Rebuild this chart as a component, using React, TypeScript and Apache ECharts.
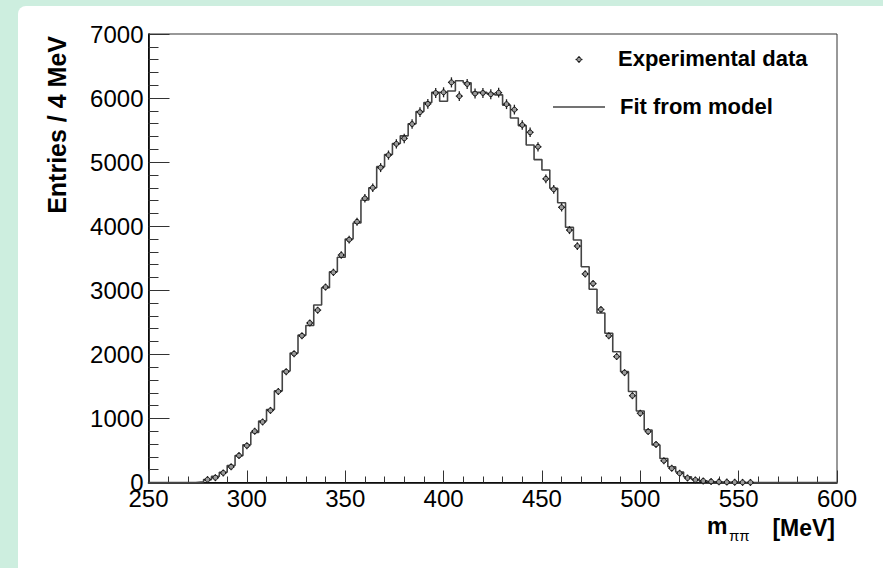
import React, { useEffect, useRef } from "react";
import * as echarts from "echarts";

// Histogram binning (MeV): first listed bin starts at 274, width 4
const BIN_LOW = 274;
const BIN_WIDTH = 4;

// Experimental data (entries per 4 MeV bin), bins centred at 276, 280, ..., 556
const dataCounts = [
  0, 45, 75, 150, 245, 420, 575, 800, 945, 1125,
  1420, 1730, 2010, 2290, 2490, 2690, 3050, 3280, 3550, 3790,
  4070, 4435, 4600, 4915, 5110, 5285, 5370, 5595, 5780, 5910,
  6080, 6090, 6245, 6030, 6220, 6070, 6080, 6060, 6085, 5905,
  5820, 5580, 5465, 5240, 4740, 4575, 4295, 3940, 3690, 3255,
  3105, 2700, 2290, 1965, 1715, 1355, 1080, 795, 595, 340,
  222, 144, 70, 40, 25, 15, 10, 6, 4, 2,
  1,
];

// Fit from model (entries per 4 MeV bin), same bins
const fitCounts = [
  10, 45, 95, 160, 265, 420, 590, 780, 960, 1140,
  1430, 1740, 2020, 2300, 2450, 2770, 3040, 3290, 3515, 3800,
  4050, 4410, 4600, 4930, 5120, 5290, 5410, 5600, 5790, 5930,
  6090, 5950, 6110, 6270, 6240, 6090, 6090, 6070, 6050, 5890,
  5690, 5570, 5268, 5040, 4877, 4592, 4367, 3983, 3785, 3368,
  3015, 2645, 2330, 2040, 1730, 1420, 1115, 820, 585, 375,
  245, 165, 90, 50, 25, 12, 6, 3, 2, 1,
  0,
];

const X_MIN = 250;
const X_MAX = 600;
const X_STEP = 50;
const Y_MIN = 0;
const Y_MAX = 7000;
const Y_STEP = 1000;

const yTitle = "Entries / 4 MeV";
const legendData = "Experimental data";
const legendFit = "Fit from model";

const FONT = "'Liberation Sans', Arial, Helvetica, sans-serif";

export default function App() {
  const ref = useRef<HTMLDivElement>(null);

  useEffect(() => {
    if (!ref.current) return;
    const chart = echarts.init(ref.current, undefined, { renderer: "svg" });

    const stepPts: number[][] = [[X_MIN, 0]];
    fitCounts.forEach((v, i) => stepPts.push([BIN_LOW + BIN_WIDTH * i, v]));
    stepPts.push([BIN_LOW + BIN_WIDTH * fitCounts.length, 0]);
    stepPts.push([X_MAX, 0]);

    const pts: number[][] = [];
    dataCounts.forEach((v, i) => {
      if (v > 0) pts.push([BIN_LOW + BIN_WIDTH * i + BIN_WIDTH / 2, v]);
    });

    const option: any = {
      animation: false,
      backgroundColor: "transparent",
      textStyle: { fontFamily: FONT },
      grid: {
        left: 148.5,
        top: 34,
        right: 46,
        bottom: 85.5,
        show: true,
        borderColor: "#333",
        borderWidth: 1,
        backgroundColor: "transparent",
      },
      xAxis: {
        type: "value",
        min: X_MIN,
        max: X_MAX,
        interval: X_STEP,
        axisLine: { show: true, lineStyle: { color: "#000", width: 1.6 } },
        axisTick: { show: true, inside: true, length: 12, lineStyle: { color: "#333", width: 1 } },
        minorTick: { show: true, splitNumber: 5, length: 6, lineStyle: { color: "#333", width: 1 } },
        axisLabel: {
          fontSize: 24,
          color: "#000",
          fontFamily: FONT,
          margin: 4,
          formatter: (v: number) => String(v),
        },
        splitLine: { show: false },
        minorSplitLine: { show: false },
      },
      yAxis: {
        type: "value",
        min: Y_MIN,
        max: Y_MAX,
        interval: Y_STEP,
        axisLine: { show: true, lineStyle: { color: "#000", width: 1.6 } },
        axisTick: { show: true, inside: true, length: 21, lineStyle: { color: "#333", width: 1 } },
        minorTick: { show: true, splitNumber: 5, length: 10, lineStyle: { color: "#333", width: 1 } },
        axisLabel: {
          fontSize: 24,
          color: "#000",
          fontFamily: FONT,
          margin: 5,
          formatter: (v: number) => String(v),
        },
        splitLine: { show: false },
        minorSplitLine: { show: false },
      },
      series: [
        {
          type: "line",
          name: legendFit,
          data: stepPts,
          step: "end",
          showSymbol: false,
          symbol: "none",
          lineStyle: { color: "#444", width: 1.6 },
          z: 2,
        },
        {
          type: "custom",
          name: legendData,
          data: pts,
          z: 3,
          renderItem: (params: any, api: any) => {
            const x = api.value(0);
            const y = api.value(1);
            const p = api.coord([x, y]);
            const e = Math.sqrt(y);
            const top = api.coord([x, y + e])[1];
            const half = Math.max(p[1] - top, 3.5);
            return {
              type: "group",
              children: [
                { type: "line", shape: { x1: p[0] - 3.5, y1: p[1], x2: p[0] + 3.5, y2: p[1] }, style: { stroke: "#222", lineWidth: 1.3 } },
                { type: "line", shape: { x1: p[0], y1: p[1] - half, x2: p[0], y2: p[1] + half }, style: { stroke: "#222", lineWidth: 1.3 } },
                { type: "circle", shape: { cx: p[0], cy: p[1], r: 2.4 }, style: { fill: "#999", stroke: "#111", lineWidth: 1 } },
              ],
            };
          },
        },
      ],
      graphic: [
        {
          type: "text",
          x: 57,
          y: 36,
          rotation: Math.PI / 2,
          style: { text: yTitle, align: "right", verticalAlign: "middle", font: `bold 25px ${FONT}`, fill: "#000" },
        },
        // x-axis title: m_ππ   [MeV]
        {
          type: "text",
          x: 835,
          y: 528,
          style: { text: "[MeV]", align: "right", verticalAlign: "middle", font: `bold 23px ${FONT}`, fill: "#000" },
        },
        {
          type: "text",
          x: 707,
          y: 526,
          style: { text: "m", align: "left", verticalAlign: "middle", font: `bold 23px ${FONT}`, fill: "#000" },
        },
        {
          type: "text",
          x: 729,
          y: 535,
          style: { text: "ππ", align: "left", verticalAlign: "middle", font: `15px ${FONT}`, fill: "#000" },
        },
        // legend
        { type: "line", shape: { x1: 575.5, y1: 59.5, x2: 582.5, y2: 59.5 }, style: { stroke: "#222", lineWidth: 1.2 } },
        { type: "line", shape: { x1: 579, y1: 56, x2: 579, y2: 63 }, style: { stroke: "#222", lineWidth: 1.2 } },
        { type: "circle", shape: { cx: 579, cy: 59.5, r: 2.2 }, style: { fill: "#999", stroke: "#111", lineWidth: 1 } },
        {
          type: "text",
          x: 618,
          y: 58,
          style: { text: legendData, align: "left", verticalAlign: "middle", font: `bold 22px ${FONT}`, fill: "#000" },
        },
        { type: "line", shape: { x1: 553, y1: 107, x2: 605, y2: 107 }, style: { stroke: "#444", lineWidth: 1.6 } },
        {
          type: "text",
          x: 620,
          y: 106,
          style: { text: legendFit, align: "left", verticalAlign: "middle", font: `bold 22px ${FONT}`, fill: "#000" },
        },
      ],
    };

    chart.setOption(option);
    return () => chart.dispose();
  }, []);

  return (
    <div
      style={{
        position: "fixed",
        left: 0,
        top: 0,
        width: 883,
        height: 568,
        background: "#cdeedf",
        overflow: "hidden",
      }}
    >
      <div
        style={{
          position: "absolute",
          left: 18,
          top: 6,
          width: 900,
          height: 620,
          background: "#ffffff",
          borderRadius: 8,
        }}
      />
      <div ref={ref} style={{ position: "absolute", left: 0, top: 0, width: 883, height: 568 }} />
    </div>
  );
}
